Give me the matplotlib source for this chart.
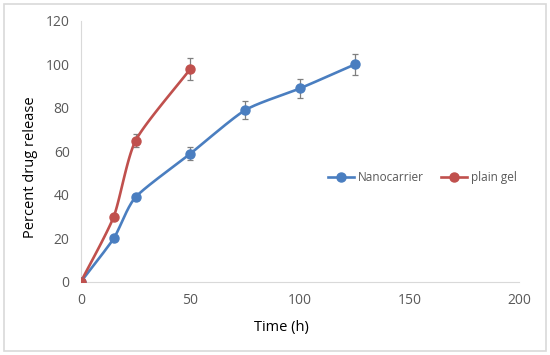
import numpy as np
import matplotlib
matplotlib.use("Agg")
import matplotlib.pyplot as plt
from matplotlib.patches import Rectangle

plt.rcParams['font.family'] = ['Open Sans', 'DejaVu Sans']

time_nano = [0, 15, 25, 50, 75, 100, 125]
release_nano = [0, 20, 39, 59, 79, 89, 100]
err_nano = [0, 0, 1.5, 3, 4, 4.5, 5]

time_gel = [0, 15, 25, 50]
release_gel = [0, 30, 65, 98]
err_gel = [0, 0, 3, 5]

series_names = ["Nanocarrier", "plain gel"]
colors = ["#4A7EC0", "#C0504D"]


def smooth(x, y, n=30):
    # Catmull-Rom style curve through the points, like Excel's smoothed line
    x = np.asarray(x, float)
    y = np.asarray(y, float)
    px = np.concatenate([[2 * x[0] - x[1]], x, [2 * x[-1] - x[-2]]])
    py = np.concatenate([[2 * y[0] - y[1]], y, [2 * y[-1] - y[-2]]])
    xs, ys = [], []
    t = np.linspace(0, 1, n)
    for i in range(1, len(px) - 2):
        for p, out in ((px, xs), (py, ys)):
            p0, p1, p2, p3 = p[i - 1], p[i], p[i + 1], p[i + 2]
            m1 = (p2 - p0) / 2 / 1.5
            m2 = (p3 - p1) / 2 / 1.5
            h00 = 2 * t**3 - 3 * t**2 + 1
            h10 = t**3 - 2 * t**2 + t
            h01 = -2 * t**3 + 3 * t**2
            h11 = t**3 - t**2
            out.extend(h00 * p1 + h10 * m1 + h01 * p2 + h11 * m2)
    return xs, ys


fig = plt.figure(figsize=(5.5, 3.55), dpi=100)
fig.patches.append(Rectangle((0.007, 0.012), 0.985, 0.976, transform=fig.transFigure,
                             fill=False, edgecolor="#D9D9D9", linewidth=1.2))
ax = fig.add_axes([0.147, 0.206, 0.797, 0.735])

for (tx, ry, er), name, c in zip([(time_nano, release_nano, err_nano),
                                  (time_gel, release_gel, err_gel)], series_names, colors):
    sx, sy = smooth(tx, ry)
    ax.plot(sx, sy, color=c, linewidth=1.9, zorder=3)
    ax.errorbar(tx, ry, yerr=er, fmt='none', ecolor="#7F7F7F", elinewidth=0.9,
                capsize=2.5, capthick=0.9, zorder=2)
    ax.plot(tx, ry, 'o', color=c, markersize=6.5, zorder=4)
    ax.plot([], [], '-o', color=c, linewidth=1.9, markersize=6.5, label=name)

ax.set_xlim(0, 200)
ax.set_ylim(0, 120)
ax.set_xticks(range(0, 201, 50))
ax.set_yticks(range(0, 121, 20))
ax.tick_params(length=0, labelsize=10, labelcolor="#595959", pad=8)
for s in ['top', 'right']:
    ax.spines[s].set_visible(False)
for s in ['left', 'bottom']:
    ax.spines[s].set_color("#D9D9D9")
ax.set_xlabel("Time (h)", fontsize=10.5, va='center')
ax.set_ylabel("Percent drug release", fontsize=10.5, va='center')
ax.xaxis.set_label_coords(0.457, -0.175)
ax.yaxis.set_label_coords(-0.116, 0.44)

ax.legend(loc='center left', bbox_to_anchor=(0.54, 0.40), ncol=2, frameon=False,
          fontsize=8.5, labelcolor="#595959", handlelength=2.2, handletextpad=0.3,
          columnspacing=1.5)

fig.savefig("out.png", dpi=100)
